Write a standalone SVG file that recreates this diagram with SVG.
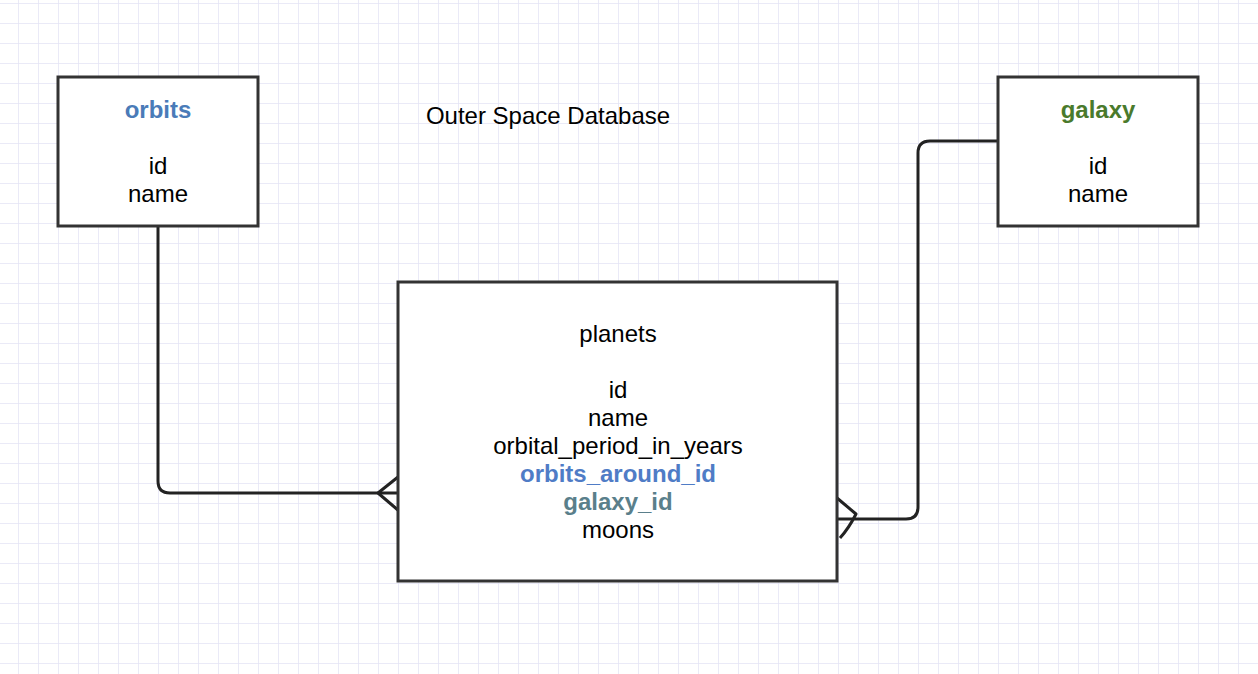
<svg xmlns="http://www.w3.org/2000/svg" width="1258" height="674" viewBox="0 0 1258 674">
  <defs>
    <pattern id="grid" x="18" y="3" width="20" height="20" patternUnits="userSpaceOnUse">
      <path d="M0,0 H20 M0,0 V20" fill="none" stroke="#e4e4f5" stroke-width="1.5"/>
    </pattern>
  </defs>
  <style>
    .box { fill: #ffffff; stroke: #333333; stroke-width: 3; }
    .t { font-family: "Liberation Sans", Arial, sans-serif; font-size: 24px; fill: #000000; text-anchor: middle; }
    .b { font-weight: bold; }
    .conn { fill: none; stroke: #222222; stroke-width: 3; stroke-linejoin: round; }
  </style>
  <rect width="1258" height="674" fill="#ffffff"/>
  <rect width="1258" height="674" fill="url(#grid)"/>

  <g id="connectors">
    <path class="conn" d="M158,226 V481 Q158,493 170,493 H398"/>
    <path class="conn" d="M398,477 L378,493 L399,511"/>
    <path class="conn" d="M998,141 H930 Q918,141 918,153 V507 Q918,519 906,519 H837"/>
    <path class="conn" d="M837,498 L856,514 Q849,528 840,538"/>
  </g>

  <g id="title">
    <text class="t" x="548" y="124">Outer Space Database</text>
  </g>

  <g id="orbits">
    <rect class="box" x="58" y="77" width="200" height="149"/>
    <text class="t b" x="158" y="118" style="fill:#4a7bb8">orbits</text>
    <text class="t" x="158" y="174">id</text>
    <text class="t" x="158" y="202">name</text>
  </g>

  <g id="galaxy">
    <rect class="box" x="998" y="77" width="200" height="149"/>
    <text class="t b" x="1098" y="118" style="fill:#4a7a2c">galaxy</text>
    <text class="t" x="1098" y="174">id</text>
    <text class="t" x="1098" y="202">name</text>
  </g>

  <g id="planets">
    <rect class="box" x="398" y="282" width="439" height="299"/>
    <text class="t" x="618" y="342">planets</text>
    <text class="t" x="618" y="398">id</text>
    <text class="t" x="618" y="426">name</text>
    <text class="t" x="618" y="454">orbital_period_in_years</text>
    <text class="t b" x="618" y="482" style="fill:#4f7cc6">orbits_around_id</text>
    <text class="t b" x="618" y="510" style="fill:#5a7f8b">galaxy_id</text>
    <text class="t" x="618" y="538">moons</text>
  </g>
</svg>
